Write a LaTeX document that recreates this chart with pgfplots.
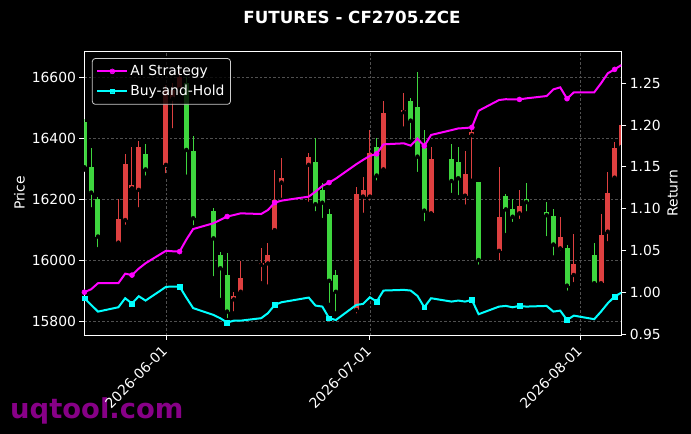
\documentclass[border=0pt]{standalone}
\usepackage{fontspec}
\setmainfont{DejaVu Sans}
\usepackage{pgfplots}
\pgfplotsset{compat=1.18}
\usepackage{pgfplotstable}
\definecolor{cred}{RGB}{222,64,64}
\definecolor{cgreen}{RGB}{62,214,62}
\definecolor{cmag}{RGB}{255,0,255}
\definecolor{ccyan}{RGB}{0,255,255}
\definecolor{gridc}{RGB}{80,80,80}
\definecolor{wm}{RGB}{135,0,135}

\pgfplotstableread{
d o h l c
-7 16058 16201 16054 16136
-6 16132 16350 16110 16316
-5 16236 16373 16233 16247
-4 16231 16392 16167 16370
0 16313 16575 16279 16558
1 16530 16582 16426 16560
2 16560 16620 16540 16600
10 15872 15897 15826 15883
11 15897 15999 15892 15941
14 15985 16039 15925 15990
15 15990 16058 15914 16017
16 16099 16296 16089 16198
17 16255 16334 16198 16269
21 16313 16353 16185 16338
28 15837 16242 15819 16217
29 16209 16274 16149 16231
30 16209 16427 16189 16351
32 16298 16522 16285 16484
35 16486 16550 16432 16493
39 16154 16373 16149 16332
44 16212 16360 16176 16283
45 16410 16429 16261 16420
49 16031 16307 15993 16143
52 16154 16231 16129 16178
58 16039 16143 16025 16075
60 15952 16086 15922 15987
64 15925 16152 15914 16083
65 16094 16291 16056 16220
66 16271 16389 16261 16369
67 16372 16452 16365 16444
}\redtab

\pgfplotstableread{
d o h l c
-12 16454 16462 16298 16305
-11 16307 16369 16167 16222
-10 16201 16209 16037 16078
-3 16349 16380 16271 16298
3 16581 16600 16274 16362
4 16358 16408 16108 16138
7 16162 16170 15941 16072
8 16017 16028 15870 15974
9 15952 16025 15804 15832
22 16321 16400 16154 16184
23 16231 16255 16132 16189
24 16152 16167 15854 15933
25 15951 15968 15826 15897
31 16370 16400 16255 16278
36 16522 16533 16389 16458
37 16502 16616 16283 16340
38 16367 16427 16121 16163
42 16332 16380 16214 16260
43 16321 16373 16207 16269
46 16256 16256 15979 16001
50 16212 16217 16083 16167
51 16167 16201 16119 16143
53 16200 16255 16154 16191
56 16157 16192 16072 16148
57 16145 16167 16009 16052
59 16039 16050 15894 15917
63 16017 16058 15914 15925
}\greentab

\pgfplotstableread{
d ai bh
-12 1.0000 0.9928
-11 1.0036 0.9848
-10 1.0108 0.9768
-7 1.0108 0.9820
-6 1.0222 0.9928
-5 1.0205 0.9865
-4 1.0283 0.9952
-3 1.0347 0.9900
0 1.0496 1.0064
1 1.0490 1.0068
2 1.0486 1.0068
3 1.0630 0.9935
4 1.0756 0.9810
7 1.0826 0.9728
8 1.0866 0.9688
9 1.0906 0.9637
10 1.0924 0.9660
11 1.0944 0.9660
14 1.0936 0.9689
15 1.0984 0.9749
16 1.1072 0.9848
17 1.1096 0.9880
21 1.1144 0.9936
22 1.1204 0.9840
23 1.1272 0.9828
24 1.1312 0.9689
25 1.1360 0.9668
28 1.1532 0.9848
29 1.1584 0.9860
30 1.1632 0.9940
31 1.1656 0.9888
32 1.1770 1.0020
35 1.1782 1.0028
36 1.1754 1.0020
37 1.1838 0.9956
38 1.1750 0.9820
39 1.1882 0.9928
42 1.1940 0.9888
43 1.1960 0.9900
44 1.1965 0.9888
45 1.1973 0.9908
46 1.2172 0.9737
49 1.2300 0.9828
50 1.2310 0.9836
51 1.2307 0.9820
52 1.2307 0.9836
53 1.2320 0.9828
56 1.2348 0.9836
57 1.2428 0.9768
58 1.2452 0.9780
59 1.2316 0.9668
60 1.2392 0.9720
63 1.2392 0.9677
64 1.2500 0.9768
65 1.2620 0.9868
66 1.2667 0.9948
67 1.2719 0.9995
}\rettab

\newcommand\fs{\fontsize{13.9bp}{16bp}\selectfont}

\begin{document}
\begin{tikzpicture}
\path[use as bounding box, fill=black] (-84.4bp,-99bp) rectangle (606.6bp,335bp);
\node[anchor=base west, text=wm, font=\fontsize{27.4bp}{30bp}\selectfont\bfseries, inner sep=0pt] at (-74.4bp,-83bp) {uqtool.com};
\node[anchor=base, text=white, font=\fontsize{16.7bp}{20bp}\selectfont\bfseries, inner sep=0pt] at (267.6bp,311bp) {FUTURES - CF2705.ZCE};
\begin{axis}[
  at={(0bp,0bp)}, anchor=south west,
  scale only axis, width=537bp, height=284bp,
  xmin=-12, xmax=67, ymin=15755.2, ymax=16686.3,
  axis line style={white, line width=0.8bp},
  tick style={white, line width=0.8bp},
  major tick length=4.9bp,
  tick align=outside,
  xtick pos=bottom, ytick pos=left,
  xtick={0,30,61}, xticklabels={2026-06-01,2026-07-01,2026-08-01},
  ytick={15800,16000,16200,16400,16600},
  scaled y ticks=false,
  yticklabel style={font=\fs, text=white, /pgf/number format/.cd, fixed, precision=0, set thousands separator={}, assume math mode=true},
  xticklabel style={font=\fs, text=white, anchor=north east, xshift=-5bp, rotate=45},
  ylabel={Price}, ylabel style={font=\fs, text=white},
  grid=major,
  major grid style={gridc, dash pattern=on 2.5bp off 2bp, line width=0.6bp},
]
\addplot[only marks, mark=none, error bars/.cd, y dir=plus, y explicit, error mark=none,
  error bar style={draw=cred, line width=1bp}]
  table[x=d, y=l, y error plus expr=\thisrow{h}-\thisrow{l}] {\redtab};
\addplot[only marks, mark=none, error bars/.cd, y dir=plus, y explicit, error mark=none,
  error bar style={draw=cred, line width=5bp}]
  table[x=d, y=o, y error plus expr=\thisrow{c}-\thisrow{o}] {\redtab};
\addplot[only marks, mark=none, error bars/.cd, y dir=plus, y explicit, error mark=none,
  error bar style={draw=cgreen, line width=1bp}]
  table[x=d, y=l, y error plus expr=\thisrow{h}-\thisrow{l}] {\greentab};
\addplot[only marks, mark=none, error bars/.cd, y dir=plus, y explicit, error mark=none,
  error bar style={draw=cgreen, line width=5bp}]
  table[x=d, y=c, y error plus expr=\thisrow{o}-\thisrow{c}] {\greentab};
\end{axis}
\begin{axis}[
  at={(0bp,0bp)}, anchor=south west,
  scale only axis, width=537bp, height=284bp,
  xmin=-12, xmax=67, ymin=0.9488, ymax=1.2887,
  axis x line=none, axis y line*=right,
  axis line style={white, line width=0.8bp},
  tick style={white, line width=0.8bp},
  major tick length=4.9bp,
  tick align=outside,
  ytick={0.95,1.0,1.05,1.1,1.15,1.2,1.25},
  yticklabel style={font=\fs, text=white, /pgf/number format/.cd, fixed, fixed zerofill, precision=2, assume math mode=true},
  ylabel={Return}, ylabel style={font=\fs, text=white},
  legend cell align=left,
  legend style={at={(0.014,0.975)}, anchor=north west, fill=black, fill opacity=0.8, text opacity=1, draw=white!80!black, draw opacity=1, rounded corners=3bp, text=white, font=\fs, line width=0.8bp, inner xsep=4bp, inner ysep=5bp, row sep=4bp, /tikz/every even column/.append style={column sep=3bp}},
  legend image code/.code={\draw[mark repeat=2,mark phase=2,#1] plot coordinates {(0bp,0bp) (15bp,0bp) (30bp,0bp)};},
]
\addplot[cmag, line width=2bp, mark=*, mark size=2.5bp, mark repeat=5, mark options={solid, fill=cmag, draw=cmag, line width=0.5bp}] table[x=d, y=ai] {\rettab};
\addlegendentry{AI Strategy}
\addplot[ccyan, line width=2bp, mark=square*, mark size=2.4bp, mark repeat=5, mark options={solid, fill=ccyan, draw=ccyan, line width=0.5bp}] table[x=d, y=bh] {\rettab};
\addlegendentry{Buy-and-Hold}
\end{axis}
\end{tikzpicture}
\end{document}
